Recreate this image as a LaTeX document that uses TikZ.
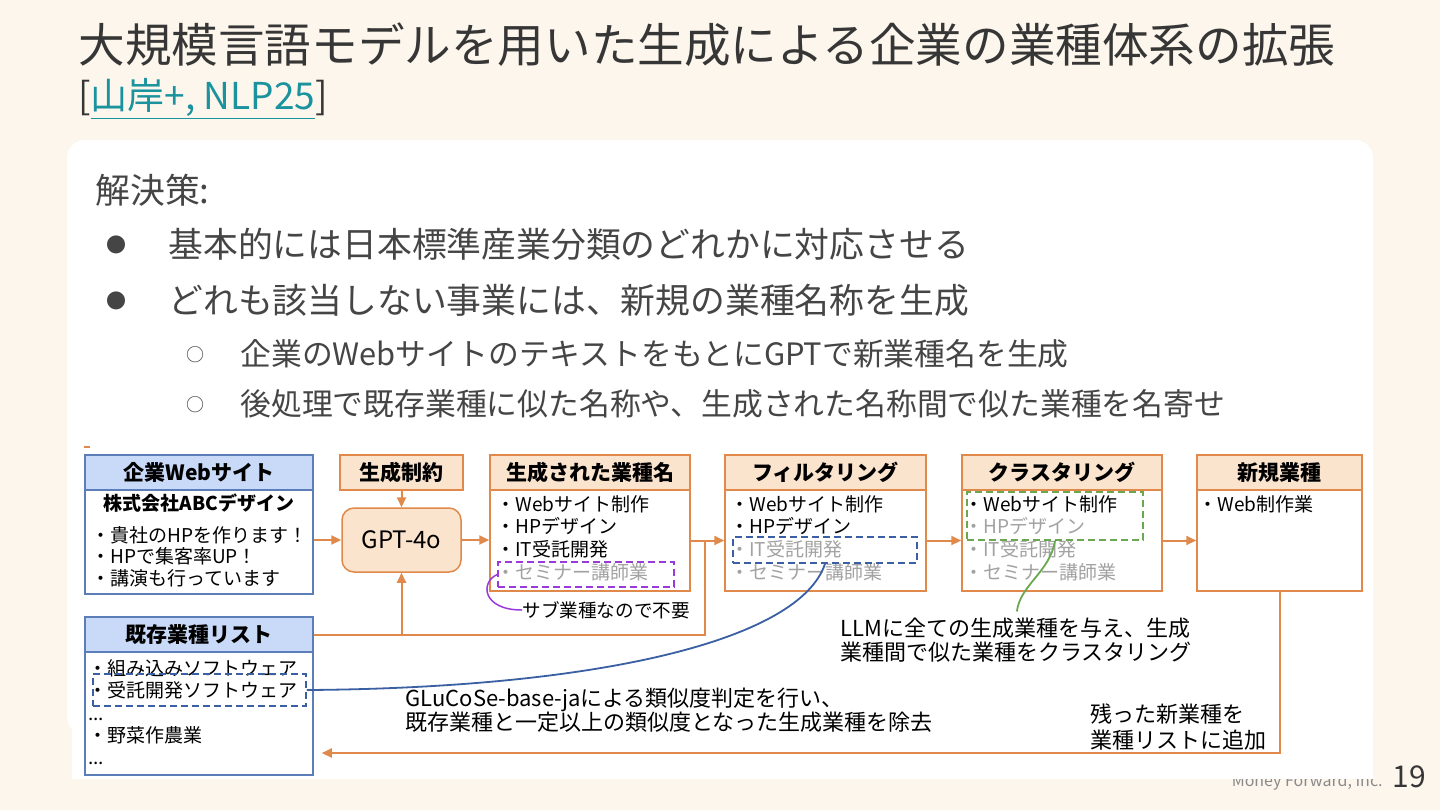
\documentclass[tikz,border=0pt]{standalone}
\usepackage{fontspec}
\setmainfont{Noto Sans CJK JP}
\usetikzlibrary{arrows.meta}

\definecolor{slidebg}{HTML}{FDF6EC}
\definecolor{titleink}{HTML}{363636}
\definecolor{bodyink}{HTML}{454545}
\definecolor{linkteal}{HTML}{1A939E}
\definecolor{footgray}{HTML}{8A8A8A}
\definecolor{flowor}{HTML}{E0894A}
\definecolor{orfill}{HTML}{FBE4CE}
\definecolor{blline}{HTML}{5B7DB8}
\definecolor{blfill}{HTML}{C9DAF8}
\definecolor{dimtext}{HTML}{A2A2A2}
\definecolor{purpdash}{HTML}{9A3ADB}
\definecolor{bluedash}{HTML}{3A5FA2}
\definecolor{greendash}{HTML}{6AA84F}

\begin{document}
\begin{tikzpicture}[x=0.5pt,y=-0.5pt,>={Triangle[length=5pt,width=4.5pt]},
  box/.style={draw,line width=0.75pt,inner sep=0pt},
  ohead/.style={box,draw=flowor,fill=orfill,minimum height=17.5pt,font=\fontsize{10.5}{12}\selectfont\bfseries},
  bhead/.style={box,draw=blline,fill=blfill,minimum height=17.5pt,font=\fontsize{10.5}{12}\selectfont\bfseries},
  obody/.style={box,draw=flowor,fill=white},
  bbody/.style={box,draw=blline,fill=white},
  items/.style={anchor=north west,inner sep=0pt,align=left,font=\fontsize{9.5}{11.3}\selectfont},
  flow/.style={draw=flowor,line width=1pt,->},
  dashbox/.style={draw=#1,dashed,dash pattern=on 3.5pt off 2pt,line width=0.75pt,inner sep=0pt},
  note/.style={anchor=west,inner sep=0pt,align=left,font=\fontsize{11}{12}\selectfont},
  slidetext/.style={anchor=west,inner sep=0pt,text=bodyink}]
\useasboundingbox (0,0) rectangle (1440,810);
\fill[slidebg] (0,0) rectangle (1440,810);
\fill[white,rounded corners=9pt] (67,140) rectangle (1373,735);
\fill[white] (72,440) rectangle (1373,779);
\draw[flowor,line width=0.75pt] (84,447) -- (90,447);

\node[anchor=west,inner sep=0pt,text=titleink,font=\fontsize{23.3}{28}\selectfont] (title) at (78,45) {大規模言語モデルを用いた生成による企業の業種体系の拡張};
\node[anchor=west,inner sep=0pt,text=titleink,font=\fontsize{18.5}{22}\selectfont] (cite) at (78,99) {[\textcolor{linkteal}{\underline{山岸+, NLP25}}]};

\node[slidetext,font=\fontsize{17.4}{20}\selectfont] (sol) at (95,190) {解決策:};
\node[inner sep=0pt,text=bodyink,font=\fontsize{10}{12}\selectfont] (dot1) at (116,245) {●};
\node[slidetext,font=\fontsize{17.4}{20}\selectfont] (line1) at (168,244) {基本的には日本標準産業分類のどれかに対応させる};
\node[inner sep=0pt,text=bodyink,font=\fontsize{10}{12}\selectfont] (dot2) at (116,301) {●};
\node[slidetext,font=\fontsize{17.4}{20}\selectfont] (line2) at (168,300) {どれも該当しない事業には、新規の業種名称を生成};
\node[inner sep=0pt,text=bodyink,font=\fontsize{9}{11}\selectfont] (ring1) at (195,355) {○};
\node[slidetext,font=\fontsize{15.4}{18}\selectfont] (line3) at (240,354) {企業のWebサイトのテキストをもとにGPTで新業種名を生成};
\node[inner sep=0pt,text=bodyink,font=\fontsize{9}{11}\selectfont] (ring2) at (195,405) {○};
\node[slidetext,font=\fontsize{15.4}{18}\selectfont] (line4) at (240,404) {後処理で既存業種に似た名称や、生成された名称間で似た業種を名寄せ};

\node[bhead,minimum width=114pt] (webhead) at (199,472.5) {企業Webサイト};
\node[bbody,minimum width=114pt,minimum height=52pt] (webbody) at (199,542) {};
\node[inner sep=0pt,font=\fontsize{9.5}{11}\selectfont\bfseries] (company) at (199,503) {株式会社ABCデザイン};
\node[items,font=\fontsize{9.5}{10.75}\selectfont] (webitems) at (91,526) {・貴社のHPを作ります！\\・HPで集客率UP！\\・講演も行っています};

\node[ohead,minimum width=61.5pt] (cons) at (401.5,472.5) {生成制約};
\node[box,draw=flowor,fill=orfill,rounded corners=6pt,minimum width=59.5pt,minimum height=32pt,font=\fontsize{12}{14}\selectfont] (gpt) at (401.5,540) {GPT-4o};

\node[ohead,minimum width=100pt] (genhead) at (590,472.5) {生成された業種名};
\node[obody,minimum width=100pt,minimum height=50.5pt] (genbody) at (590,540.5) {};
\node[items] (genitems) at (496,495) {・Webサイト制作\\・HPデザイン\\・IT受託開発\\\textcolor{dimtext}{・セミナー講師業}};

\node[ohead,minimum width=100.5pt] (filhead) at (825.5,472.5) {フィルタリング};
\node[obody,minimum width=100.5pt,minimum height=50.5pt] (filbody) at (825.5,540.5) {};
\node[items] (filitems) at (730,495) {・Webサイト制作\\・HPデザイン\\\textcolor{dimtext}{・IT受託開発}\\\textcolor{dimtext}{・セミナー講師業}};

\node[ohead,minimum width=100pt] (cluhead) at (1062,472.5) {クラスタリング};
\node[obody,minimum width=100pt,minimum height=50.5pt] (clubody) at (1062,540.5) {};
\node[items] (cluitems) at (964,495) {・Webサイト制作\\\textcolor{dimtext}{・HPデザイン}\\\textcolor{dimtext}{・IT受託開発}\\\textcolor{dimtext}{・セミナー講師業}};

\node[ohead,minimum width=82.5pt] (newhead) at (1279.5,472.5) {新規業種};
\node[obody,minimum width=82.5pt,minimum height=50.5pt] (newbody) at (1279.5,540.5) {};
\node[items] (newitems) at (1198,495) {・Web制作業};

\node[bhead,minimum width=114pt] (exhead) at (199,634.5) {既存業種リスト};
\node[bbody,minimum width=114pt,minimum height=61.5pt] (exbody) at (199,713.5) {};
\node[items,font=\fontsize{9.5}{11.2}\selectfont] (exitems) at (88,659) {・組み込みソフトウェア\\・受託開発ソフトウェア\\...\\・野菜作農業\\...};

\node[dashbox=purpdash,minimum width=88pt,minimum height=12.5pt] (subcut) at (586,574.5) {};
\node[dashbox=bluedash,minimum width=92pt,minimum height=13pt] (filcut) at (825,550) {};
\node[dashbox=greendash,minimum width=88pt,minimum height=24pt] (clucut) at (1055,516) {};
\node[dashbox=bluedash,minimum width=106.5pt,minimum height=16pt] (excut) at (199.5,690) {};

\node[note,font=\fontsize{9.3}{11}\selectfont] (subnote) at (522,610) {サブ業種なので不要};
\node[note] (llmnote) at (840,640) {LLMに全ての生成業種を与え、生成\\業種間で似た業種をクラスタリング};
\node[note] (glunote) at (405,710) {GLuCoSe-base-jaによる類似度判定を行い、\\既存業種と一定以上の類似度となった生成業種を除去};
\node[note,font=\fontsize{11}{13}\selectfont] (addnote) at (1090,727) {残った新業種を\\業種リストに追加};

\coordinate (join) at (705,540.5);
\draw[flow] (webbody.east |- gpt.west) -- (gpt.west);
\draw[flow] (cons) -- (gpt);
\draw[flow] (gpt.east) -- (gpt.east -| genbody.west);
\draw[flow] (genbody.east) -- (filbody.west);
\draw[flow] (filbody.east) -- (clubody.west);
\draw[flow] (clubody.east) -- (newbody.west);
\draw[flowor,line width=1pt] (exhead.east) -| (join);
\draw[flow] (exhead.east -| gpt.south) -- (gpt.south);
\draw[flow,shorten >=4pt] (newbody.south) |- (exbody.east |- 0,753);

\draw[purpdash,line width=0.75pt] (subcut.west) .. controls (480,582) and (482,610) .. (subnote.west);
\draw[bluedash,line width=0.9pt] (excut.east) .. controls (600,688) and (800,640) .. (filcut.south);
\draw[greendash,line width=0.9pt,shorten >=3pt] (clucut.south) .. controls (1050,572) and (1020,585) .. (llmnote.north);

\begin{scope}
\clip (1200,779) rectangle (1440,810);
\node[anchor=base east,inner sep=0pt,text=footgray,font=\fontsize{8}{10}\selectfont] (corp) at (1383,786) {Money Forward, Inc.};
\end{scope}
\node[anchor=base west,inner sep=0pt,text=titleink,font=\fontsize{15}{17}\selectfont] (pageno) at (1392,787) {19};
\end{tikzpicture}
\end{document}
